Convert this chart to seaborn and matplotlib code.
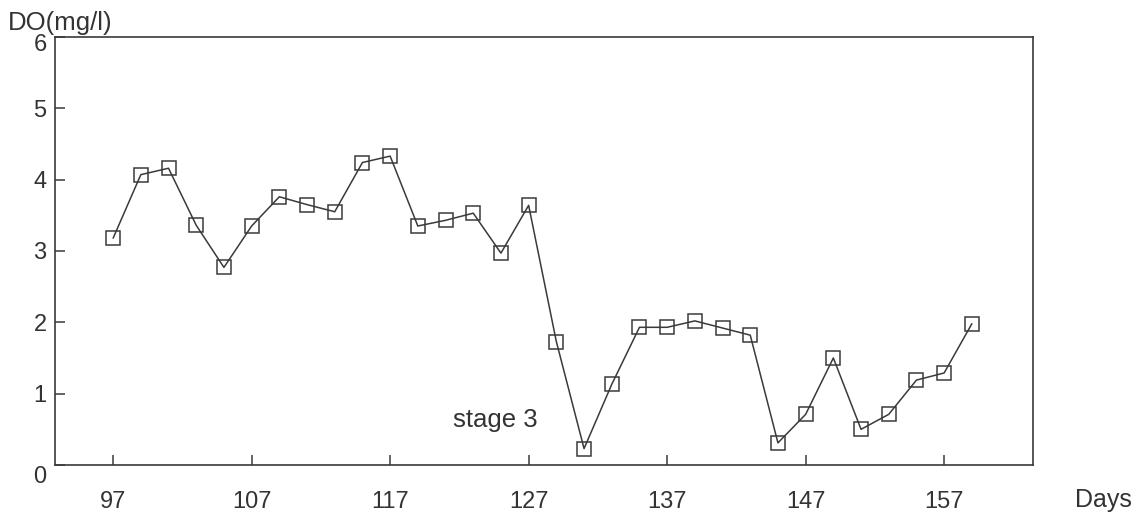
import matplotlib
matplotlib.use("Agg")
import matplotlib.pyplot as plt
import matplotlib.transforms as mtransforms
import numpy as np
import pandas as pd
import seaborn as sns

# Dissolved oxygen measured every second day
days = [97, 99, 101, 103, 105, 107, 109, 111, 113, 115, 117, 119, 121, 123, 125, 127,
        129, 131, 133, 135, 137, 139, 141, 143, 145, 147, 149, 151, 153, 155, 157, 159]
do_mg_l = [3.18, 4.07, 4.16, 3.36, 2.77, 3.35, 3.76, 3.65, 3.55, 4.24, 4.33, 3.35, 3.43, 3.53, 2.97, 3.64,
           1.73, 0.23, 1.13, 1.93, 1.93, 2.02, 1.92, 1.82, 0.31, 0.71, 1.50, 0.50, 0.71, 1.19, 1.29, 1.98]

x_ticks = [97, 107, 117, 127, 137, 147, 157]
y_ticks = [0, 1, 2, 3, 4, 5, 6]

df = pd.DataFrame({"day": days, "do": do_mg_l})

sns.set_theme(style="white")
plt.rcParams["font.family"] = ["Liberation Sans", "DejaVu Sans"]

ink = "#3a3a3a"
fig = plt.figure(figsize=(11.45, 5.26), dpi=100)
ax = fig.add_axes([0.048, 0.116, 0.854, 0.8137])

sns.lineplot(data=df, x="day", y="do", ax=ax, color=ink, linewidth=1.1,
             marker="s", markersize=9.5, markerfacecolor="none",
             markeredgecolor=ink, markeredgewidth=1.1)

ax.set_xlim(92.8, 163.4)
ax.set_ylim(0, 6)
ax.set_xticks(x_ticks)
ax.set_yticks(y_ticks)
ax.set_xticklabels([str(t) for t in x_ticks])
ax.set_yticklabels([str(t) for t in y_ticks])
ax.set_xlabel("")
ax.set_ylabel("")

for side in ["left", "right", "top", "bottom"]:
    ax.spines[side].set_visible(True)
    ax.spines[side].set_color(ink)
    ax.spines[side].set_linewidth(1.2)

ax.tick_params(axis="x", direction="in", length=7, width=1.1, color=ink,
               labelsize=17, labelcolor="#333333", pad=19, top=False, bottom=True)
ax.tick_params(axis="y", direction="in", length=7, width=1.1, color=ink,
               labelsize=17, labelcolor="#333333", pad=6, left=True, right=False)

# nudge the end labels of the y axis slightly downward
for lbl, dy in zip(ax.get_yticklabels(), [-10, 0, 0, 0, 0, 0, -6]):
    if dy:
        lbl.set_transform(lbl.get_transform() +
                          mtransforms.ScaledTranslation(0, dy / 100, fig.dpi_scale_trans))

ax.text(124.6, 0.63, "stage 3", ha="center", va="center", fontsize=18.5, color="#333333")

fig.text(8 / 1145, 1 - 23 / 526, "DO(mg/l)", ha="left", va="center", fontsize=18.5, color="#333333")
fig.text(1103 / 1145, 1 - 500 / 526, "Days", ha="center", va="center", fontsize=18, color="#333333")

fig.savefig("out.png", dpi=100, facecolor="white")
